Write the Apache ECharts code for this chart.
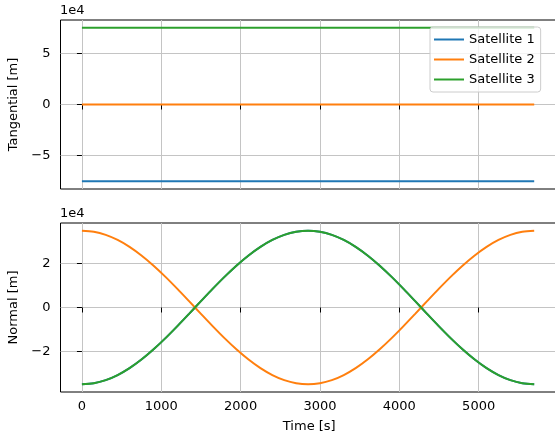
<!DOCTYPE html>
<html>
<head>
<meta charset="utf-8">
<script src="https://cdn.jsdelivr.net/npm/echarts@6/dist/echarts.min.js"></script>
<style>
  html, body { margin: 0; padding: 0; background: #fff; }
  #main { width: 555px; height: 441px; }
</style>
</head>
<body>
<div id="main"></div>
<script>
// time samples [s]
var times = [0, 150, 300, 450, 600, 750, 900, 1050, 1200, 1350, 1500, 1650, 1800, 1950,
  2100, 2250, 2400, 2550, 2700, 2850, 3000, 3150, 3300, 3450, 3600, 3750, 3900, 4050,
  4200, 4350, 4500, 4650, 4800, 4950, 5100, 5250, 5400, 5550, 5700];

// tangential offsets (constant over the run)
var tangTimes = [0, 5700];
var tang1 = [-75000, -75000];
var tang2 = [0, 0];
var tang3 = [75000, 75000];

// normal offsets
var normal2 = [35000, 34520, 33100, 30780, 27620, 23700, 19140, 14060, 8590, 2890,
  -2890, -8590, -14060, -19140, -23700, -27620, -30780, -33100, -34520, -35000,
  -34520, -33100, -30780, -27620, -23700, -19140, -14060, -8590, -2890, 2890,
  8590, 14060, 19140, 23700, 27620, 30780, 33100, 34520, 35000];
var normal3 = [-35000, -34520, -33100, -30780, -27620, -23700, -19140, -14060, -8590, -2890,
  2890, 8590, 14060, 19140, 23700, 27620, 30780, 33100, 34520, 35000,
  34520, 33100, 30780, 27620, 23700, 19140, 14060, 8590, 2890, -2890,
  -8590, -14060, -19140, -23700, -27620, -30780, -33100, -34520, -35000];
var normal1 = normal3.slice();

var names = ['Satellite 1', 'Satellite 2', 'Satellite 3'];
var colors = ['#1f77b4', '#ff7f0e', '#2ca02c'];
var xTicks = [0, 1000, 2000, 3000, 4000, 5000];
var tangTicks = [-50000, 0, 50000];
var normTicks = [-20000, 0, 20000];

function pairs(xs, ys) {
  return xs.map(function (t, i) { return [t, ys[i]]; });
}
function fmt(v) {
  var s = String(v / 1e4);
  return s.replace('-', '\u2212');
}

var font = 'DejaVu Sans';
var gridLine = { show: true, lineStyle: { color: '#c4c4c4', width: 1 } };

function xAxis(idx, labels) {
  return {
    type: 'value', gridIndex: idx, min: -270, max: 6000,
    axisLine: { show: false },
    axisTick: { show: true, customValues: xTicks, length: 5, lineStyle: { color: '#000' } },
    axisLabel: { show: labels, customValues: xTicks, margin: 8, color: '#000', fontSize: 13, fontFamily: font,
      formatter: function (v) { return String(v); } },
    splitLine: gridLine,
    name: labels ? 'Time [s]' : '', nameLocation: 'middle', nameGap: 28,
    nameTextStyle: { color: '#000', fontSize: 13, fontFamily: font }
  };
}
function yAxis(idx, lim, ticks, title) {
  return {
    type: 'value', gridIndex: idx, min: -lim, max: lim,
    axisLine: { show: false },
    axisTick: { show: true, customValues: ticks, length: 5, lineStyle: { color: '#000' } },
    axisLabel: { customValues: ticks, margin: 10, color: '#000', fontSize: 13, fontFamily: font, formatter: fmt },
    splitLine: gridLine,
    name: title, nameLocation: 'middle', nameGap: 34, nameRotate: 90,
    nameTextStyle: { color: '#000', fontSize: 13, fontFamily: font }
  };
}
function line(i, grid, xs, ys) {
  return {
    name: names[i], type: 'line', xAxisIndex: grid, yAxisIndex: grid,
    data: pairs(xs, ys), symbol: 'none', animation: false, smooth: 0.3,
    lineStyle: { color: colors[i], width: 2 }, itemStyle: { color: colors[i] }
  };
}

var chart = echarts.init(document.getElementById('main'));
chart.setOption({
  animation: false,
  grid: [
    { left: 60.5, top: 20, right: -3, height: 169, outerBoundsMode: 'none', show: true, borderColor: '#000', borderWidth: 1, backgroundColor: 'transparent' },
    { left: 60.5, top: 223, right: -3, height: 169, outerBoundsMode: 'none', show: true, borderColor: '#000', borderWidth: 1, backgroundColor: 'transparent' }
  ],
  xAxis: [xAxis(0, false), xAxis(1, true)],
  yAxis: [yAxis(0, 82500, tangTicks, 'Tangential [m]'), yAxis(1, 38500, normTicks, 'Normal [m]')],
  legend: {
    data: names, orient: 'vertical', left: 430, top: 27,
    padding: [6, 6, 6, 3], itemWidth: 30, itemHeight: 14, itemGap: 7,
    itemStyle: { opacity: 0 },
    backgroundColor: 'rgba(255,255,255,0.8)', borderColor: '#cccccc', borderWidth: 1, borderRadius: 3,
    textStyle: { color: '#000', fontSize: 13, fontFamily: font }
  },
  graphic: [
    { type: 'text', left: 60, top: 4, style: { text: '1e4', fill: '#000', font: '13px "DejaVu Sans"' } },
    { type: 'text', left: 60, top: 207, style: { text: '1e4', fill: '#000', font: '13px "DejaVu Sans"' } }
  ],
  series: [
    line(0, 0, tangTimes, tang1),
    line(1, 0, tangTimes, tang2),
    line(2, 0, tangTimes, tang3),
    line(0, 1, times, normal1),
    line(1, 1, times, normal2),
    line(2, 1, times, normal3)
  ]
});
</script>
</body>
</html>
